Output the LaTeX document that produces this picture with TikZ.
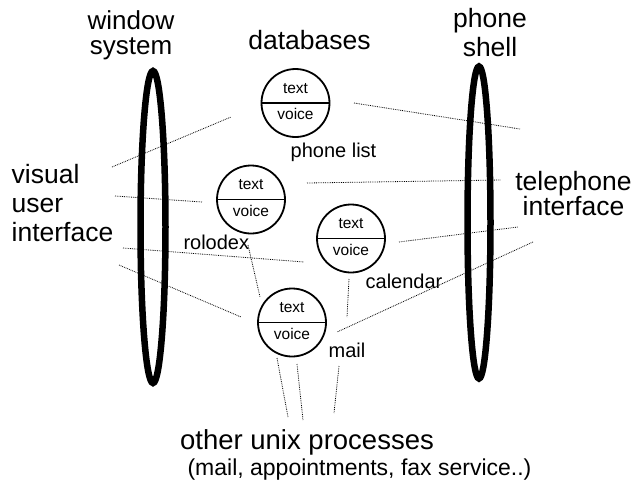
\documentclass[tikz,border=0pt]{standalone}
\usepackage{fontspec}
\setmainfont{Liberation Sans}
\usepackage{tikz}
\usetikzlibrary{positioning,shapes.multipart}

\tikzset{
  bigtext/.style={font=\fontsize{26.5}{29}\selectfont, align=center, inner sep=0pt},
  smalltext/.style={font=\fontsize{20}{24}\selectfont, inner sep=0pt},
  store/.style={circle split, draw, line width=1.8pt, minimum size=68pt,
    inner xsep=2pt, inner ysep=4.5pt, font=\fontsize{15.5}{15}\selectfont},
  shellring/.style={line width=6.5pt},
  link/.style={densely dotted, line width=0.8pt},
}

\begin{document}
\begin{tikzpicture}[x=1pt, y=-1pt]
    \useasboundingbox (0,0) rectangle (633,485);

    % Shells
    \draw[shellring] (153,227) ellipse [x radius=12.5, y radius=156];
    \draw[shellring] (479,222.5) ellipse [x radius=11.5, y radius=156];

    % Headings
    \node[bigtext, font=\fontsize{26}{25}\selectfont] (wsys) at (131,35.6) {window\\system};
    \node[bigtext] (pshell) at (490,32.6) {phone\\shell};
    \node[bigtext] (dbs) at (309.5,40.5) {databases};
    \node[bigtext, align=left, anchor=west] (vui) at (11.5,203) {visual\\user\\interface};
    \node[bigtext, font=\fontsize{26.5}{25.7}\selectfont] (tel) at (573.5,193.4) {telephone\\interface};

    % Databases
    \node[store] (plist) at (295.5,103) {text\strut \nodepart{lower} voice\strut};
    \node[store] (rolo) at (251,199.5) {text\strut \nodepart{lower} voice\strut};
    \node[store] (cal) at (351,238.5) {text\strut \nodepart{lower} voice\strut};
    \node[store] (mail) at (292,322.5) {text\strut \nodepart{lower} voice\strut};

    \node[smalltext] (plist-lbl) at (333.5,152.7) {phone list};
    \node[smalltext] (rolo-lbl) at (216.3,242.5) {rolodex};
    \node[smalltext] (cal-lbl) at (404,281.7) {calendar};
    \node[smalltext] (mail-lbl) at (347,350) {mail};

    % Unix side
    \node[bigtext, font=\fontsize{27.5}{30}\selectfont] (unix) at (307,442.5) {other unix processes};
    \node[smalltext, font=\fontsize{23}{26}\selectfont] (unix-eg) at (359.5,469.2) {(mail, appointments, fax service..)};

    % Free ends of the links
    \coordinate (v1) at (112,167);   \coordinate (p1) at (231,117);
    \coordinate (v2) at (115,196);   \coordinate (r1) at (202,202);
    \coordinate (v3) at (123,248);   \coordinate (c1) at (304,262);
    \coordinate (v4) at (119,265);   \coordinate (m1) at (241,317);
    \coordinate (p2) at (354,103);   \coordinate (t1) at (520,129);
    \coordinate (r2) at (307,183);   \coordinate (t2) at (501,180);
    \coordinate (c2) at (399,242);   \coordinate (t3) at (518,227);
    \coordinate (t4) at (533,242);   \coordinate (m2) at (337,332);
    \coordinate (r3) at (248,245);   \coordinate (m3) at (260,297);
    \coordinate (c3) at (349,279);   \coordinate (m4) at (347,317);
    \coordinate (m5) at (277,358);   \coordinate (u1) at (288,417);
    \coordinate (m6) at (297,364);   \coordinate (u2) at (303,420);
    \coordinate (m7) at (339,366);   \coordinate (u3) at (334,413);

    % Links
    \draw[link] (v1) -- (p1);
    \draw[link] (v2) -- (r1);
    \draw[link] (v3) -- (c1);
    \draw[link] (v4) -- (m1);
    \draw[link] (p2) -- (t1);
    \draw[link] (r2) -- (t2);
    \draw[link] (c2) -- (t3);
    \draw[link] (t4) -- (m2);
    \draw[link] (r3) -- (m3);
    \draw[link] (c3) -- (m4);
    \draw[link] (m5) -- (u1);
    \draw[link] (m6) -- (u2);
    \draw[link] (m7) -- (u3);
\end{tikzpicture}
\end{document}
